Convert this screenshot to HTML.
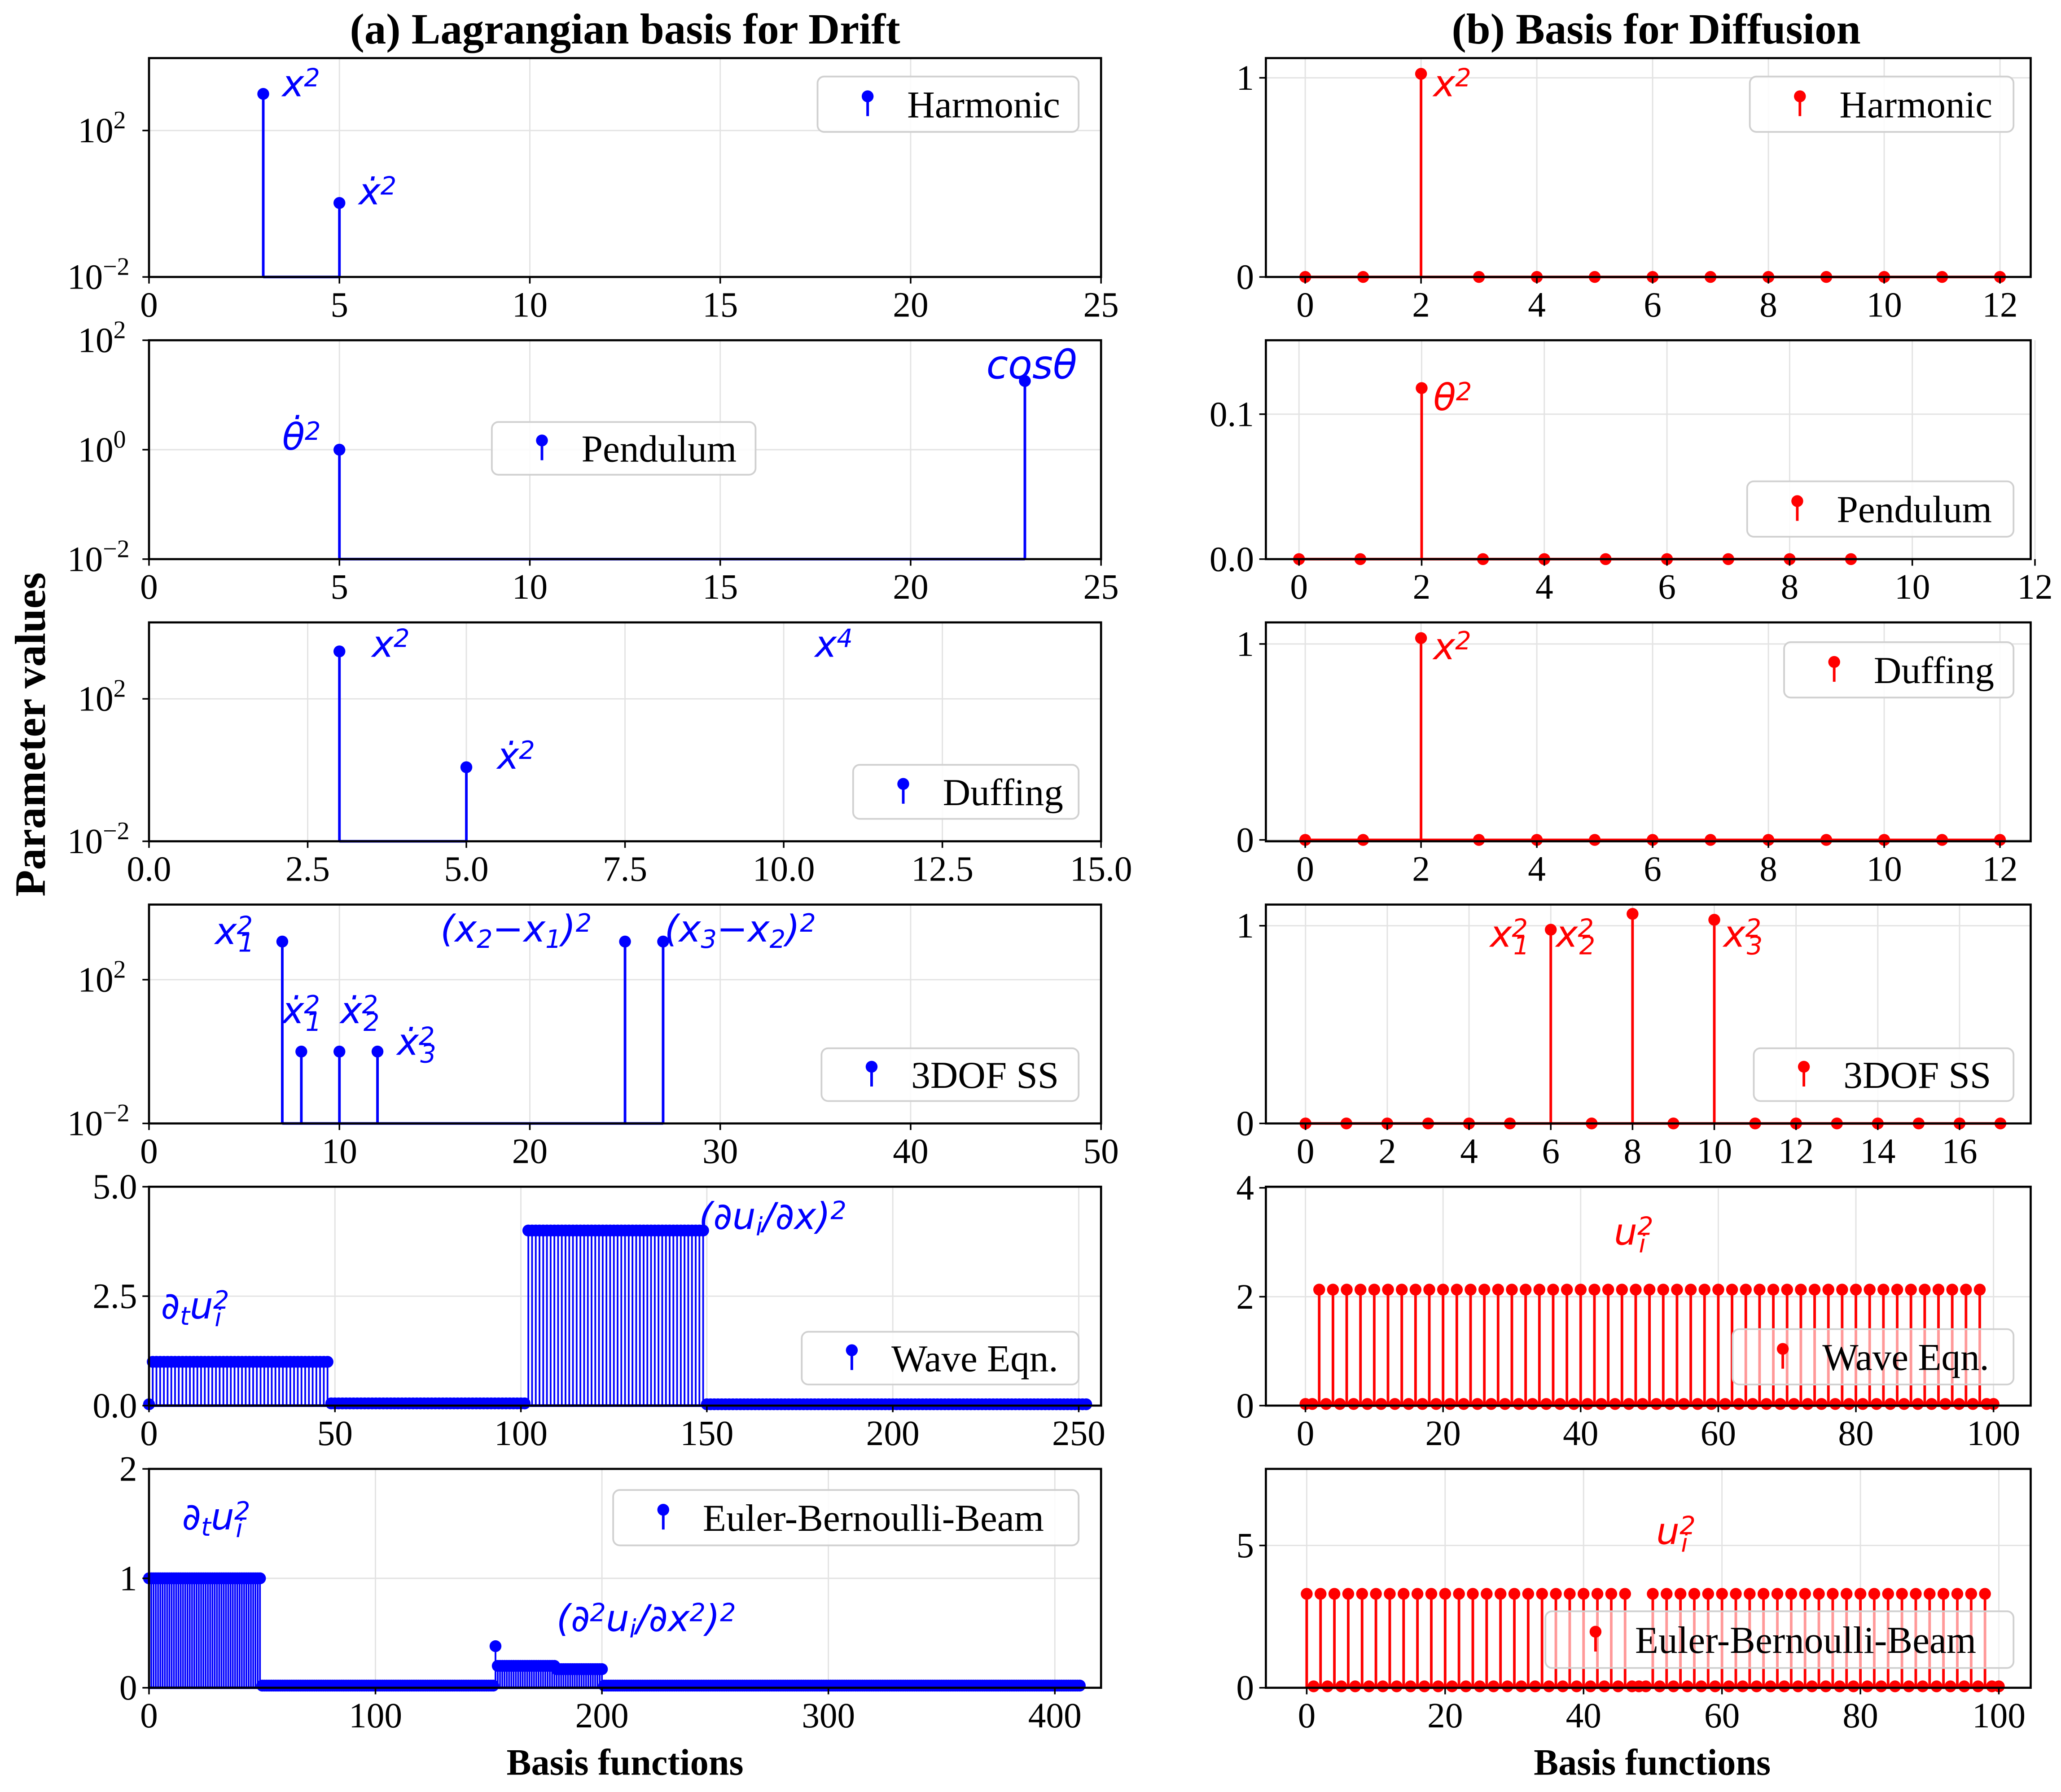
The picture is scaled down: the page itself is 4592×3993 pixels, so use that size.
<!DOCTYPE html>
<html><head><meta charset="utf-8"><style>
html,body{margin:0;padding:0;background:#fff}
svg{display:block}
text{font-family:"Liberation Serif","DejaVu Serif",serif}
.m{font-family:"DejaVu Sans","Liberation Sans",sans-serif;font-style:italic}
</style></head><body>
<svg id="fig" width="4592" height="3993" viewBox="0 0 1563 1359" xmlns="http://www.w3.org/2000/svg">
<rect width="1563" height="1359" fill="#fff"/>
<text x="474" y="33" font-size="33" font-weight="bold" text-anchor="middle">(a) Lagrangian basis for Drift</text>
<text x="1256" y="33" font-size="33" font-weight="bold" text-anchor="middle">(b) Basis for Diffusion</text>
<text transform="translate(34,557) rotate(-90)" font-size="33" font-weight="bold" text-anchor="middle">Parameter values</text>
<text x="474" y="1346" font-size="28" font-weight="bold" text-anchor="middle">Basis functions</text>
<text x="1253" y="1346" font-size="28" font-weight="bold" text-anchor="middle">Basis functions</text>
</svg>
<script>
// ---- data ----
const h1X=[3,5], h1Y=[1000,1.05];
const p1X=[5,23], p1Y=[1,18];
const d1X=[3,5], d1Y=[2150,1.2];
const s1X=[7,8,10,12,25,27], s1Y=[1150,1,1,1,1150,1150];
// wave eqn (run-length: start, end, value)
const w1Start=[0,1,49,102,150], w1End=[0,48,101,149,252], w1Val=[0.03,1.0,0.05,4.0,0.03];
// beam (run-length)
const b1Start=[0,50,153,154,180,201], b1End=[49,152,153,179,200,411], b1Val=[1.0,0.02,0.38,0.2,0.17,0.02];
const h2Y=[0,0,1.02,0,0,0,0,0,0,0,0,0,0];
const p2Y=[0,0,0.118,0,0,0,0,0,0,0];
const d2Y=[0,0,1.03,0,0,0,0,0,0,0,0,0,0];
const s2Y=[0,0,0,0,0,0,0.98,0,1.06,0,1.03,0,0,0,0,0,0,0];
const w2High=2.13, w2Low=0.03, w2N=101;
const b2High=3.3, b2Low=0.05, b2N=101, b2Missing=[48];

const svg=document.getElementById('fig');
const NS='http://www.w3.org/2000/svg';
function el(tag,attrs,parent){const e=document.createElementNS(NS,tag);for(const k in attrs)e.setAttribute(k,attrs[k]);(parent||svg).appendChild(e);return e;}
function runs(s,e,v){const xs=[],ys=[];for(let r=0;r<s.length;r++)for(let i=s[r];i<=e[r];i++){xs.push(i);ys.push(v[r]);}return [xs,ys];}

function panel(o){
  const g=el('g',{});
  
  
  const sx=v=>o.x0+(v-o.xmin)/(o.xmax-o.xmin)*(o.x1-o.x0);
  const tr=v=>o.log?Math.log10(Math.max(v,1e-9)):v;
  const sy=v=>o.y1-(tr(v)-tr(o.ymin))/(tr(o.ymax)-tr(o.ymin))*(o.y1-o.y0);
  o.xticks.forEach(t=>{el('line',{x1:sx(t),x2:sx(t),y1:o.y0,y2:o.y1,stroke:'#e3e3e3','stroke-width':1},g);});
  o.yticks.forEach(t=>{el('line',{x1:o.x0,x2:o.x1,y1:sy(t),y2:sy(t),stroke:'#e3e3e3','stroke-width':1},g);});
  const clip='c'+o.name;
  const cp=el('clipPath',{id:clip},g);el('rect',{x:o.x0-6,y:o.y0,width:o.x1-o.x0+12,height:o.y1-o.y0+6},cp);
  const sg=el('g',{'clip-path':'url(#'+clip+')'},g);
  const base=o.log?o.y1:sy(0);
  const ys=o.xs.map((x,i)=>sy(o.ys[i]));
  el('line',{x1:sx(o.xs[0]),x2:sx(o.xs[o.xs.length-1]),y1:base,y2:base,stroke:o.c,'stroke-width':2},sg);
  o.xs.forEach((x,i)=>{
    const l=el('line',{x1:sx(x),x2:sx(x),y1:base,y2:ys[i],stroke:o.c,'stroke-width':o.sw||2},sg);
    
    
    const c=el('circle',{cx:sx(x),cy:ys[i],r:4.5,fill:o.c},sg);
    
    
  });
  el('rect',{x:o.x0,y:o.y0,width:o.x1-o.x0,height:o.y1-o.y0,fill:'none',stroke:'#000','stroke-width':1.6},g);
  o.xticks.forEach((t,i)=>{el('line',{x1:sx(t),x2:sx(t),y1:o.y1,y2:o.y1+5,stroke:'#000','stroke-width':1.2},g);
    const tx=el('text',{x:sx(t),y:o.y1+30,'font-size':27,'text-anchor':'middle'},g);tx.textContent=o.xlab[i];
    });
  o.yticks.forEach((t,i)=>{el('line',{x1:o.x0-5,x2:o.x0,y1:sy(t),y2:sy(t),stroke:'#000','stroke-width':1.2},g);
    const tx=el('text',{x:o.x0-9,y:sy(t)+9,'font-size':27,'text-anchor':'end'},g);
    
    if(o.log){const e=Math.round(Math.log10(t));tx.setAttribute('text-anchor','start');tx.setAttribute('x',o.x0-(e<0?62:54));tx.textContent='10';
      const s=el('tspan',{'baseline-shift':'super','font-size':19},tx);s.textContent=(e<0?'\u2212':'')+Math.abs(e);}
    else tx.textContent=o.ylab[i];});
  const L=o.leg;
  const lr=el('rect',{x:L[0],y:L[1],width:L[2],height:L[3],rx:5,fill:'#fff','fill-opacity':L[5]||0.85,stroke:'#d0d0d0','stroke-width':1.3},g);
  
  const mx=L[0]+38,my=L[1]+L[3]/2;
  el('line',{x1:mx,x2:mx,y1:my-6,y2:my+9,stroke:o.c,'stroke-width':2},g);
  el('circle',{cx:mx,cy:my-6,r:4.5,fill:o.c},g);
  const lt=el('text',{x:mx+30,y:my+10,'font-size':29},g);lt.textContent=L[4];
  
  return g;
}
const lx0=113,lx1=835,rx0=960,rx1=1540,rows=[[44,210],[258,424],[472,638],[686,852],[900,1066],[1114,1280]];
const B='#0000ff',R='#ff0000';
panel({name:'harmonic-drift',x0:lx0,x1:lx1,y0:rows[0][0],y1:rows[0][1],xmin:0,xmax:25,log:1,ymin:0.01,ymax:9500,xs:h1X,ys:h1Y,c:B,
 xticks:[0,5,10,15,20,25],xlab:['0','5','10','15','20','25'],yticks:[0.01,100],leg:[620,58,198,42,'Harmonic']});
panel({name:'pendulum-drift',x0:lx0,x1:lx1,y0:rows[1][0],y1:rows[1][1],xmin:0,xmax:25,log:1,ymin:0.01,ymax:100,xs:p1X,ys:p1Y,c:B,
 xticks:[0,5,10,15,20,25],xlab:['0','5','10','15','20','25'],yticks:[0.01,1,100],leg:[373,320,200,40,'Pendulum']});
panel({name:'duffing-drift',x0:lx0,x1:lx1,y0:rows[2][0],y1:rows[2][1],xmin:0,xmax:15,log:1,ymin:0.01,ymax:14000,xs:d1X,ys:d1Y,c:B,
 xticks:[0,2.5,5,7.5,10,12.5,15],xlab:['0.0','2.5','5.0','7.5','10.0','12.5','15.0'],yticks:[0.01,100],leg:[647,580,171,41,'Duffing']});
panel({name:'3dof-drift',x0:lx0,x1:lx1,y0:rows[3][0],y1:rows[3][1],xmin:0,xmax:50,log:1,ymin:0.01,ymax:12300,xs:s1X,ys:s1Y,c:B,
 xticks:[0,10,20,30,40,50],xlab:['0','10','20','30','40','50'],yticks:[0.01,100],leg:[623,795,195,40,'3DOF SS']});
let wr=runs(w1Start,w1End,w1Val);
panel({name:'wave-drift',x0:lx0,x1:lx1,y0:rows[4][0],y1:rows[4][1],xmin:0,xmax:256,ymin:0,ymax:5,xs:wr[0],ys:wr[1],c:B,sw:1.3,
 xticks:[0,50,100,150,200,250],xlab:['0','50','100','150','200','250'],yticks:[0,2.5,5],ylab:['0.0','2.5','5.0'],leg:[608,1010,210,40,'Wave Eqn.']});
let br=runs(b1Start,b1End,b1Val);
panel({name:'beam-drift',x0:lx0,x1:lx1,y0:rows[5][0],y1:rows[5][1],xmin:0,xmax:420.4,ymin:0,ymax:2,xs:br[0],ys:br[1],c:B,sw:1.3,
 xticks:[0,100,200,300,400],xlab:['0','100','200','300','400'],yticks:[0,1,2],ylab:['0','1','2'],leg:[465,1130,353,42,'Euler-Bernoulli-Beam']});
const idx=n=>Array.from({length:n},(_,i)=>i);
panel({name:'harmonic-diffusion',x0:rx0,x1:rx1,y0:rows[0][0],y1:rows[0][1],xmin:-0.68,xmax:12.53,ymin:0,ymax:1.099,xs:idx(h2Y.length),ys:h2Y,c:R,
 xticks:[0,2,4,6,8,10,12],xlab:['0','2','4','6','8','10','12'],yticks:[0,1],ylab:['0','1'],leg:[1327,58,200,42,'Harmonic']});
panel({name:'pendulum-diffusion',x0:rx0,x1:rx1,y0:rows[1][0],y1:rows[1][1],xmin:-0.54,xmax:11.93,ymin:0,ymax:0.151,xs:idx(p2Y.length),ys:p2Y,c:R,
 xticks:[0,2,4,6,8,10,12],xlab:['0','2','4','6','8','10','12'],yticks:[0,0.1],ylab:['0.0','0.1'],leg:[1325,365,202,42,'Pendulum']});
panel({name:'duffing-diffusion',x0:rx0,x1:rx1,y0:rows[2][0],y1:rows[2][1],xmin:-0.68,xmax:12.53,ymin:-0.007,ymax:1.11,xs:idx(d2Y.length),ys:d2Y,c:R,
 xticks:[0,2,4,6,8,10,12],xlab:['0','2','4','6','8','10','12'],yticks:[0,1],ylab:['0','1'],leg:[1353,487,174,42,'Duffing']});
panel({name:'3dof-diffusion',x0:rx0,x1:rx1,y0:rows[3][0],y1:rows[3][1],xmin:-0.97,xmax:17.74,ymin:0,ymax:1.107,xs:idx(s2Y.length),ys:s2Y,c:R,
 xticks:[0,2,4,6,8,10,12,14,16],xlab:['0','2','4','6','8','10','12','14','16'],yticks:[0,1],ylab:['0','1'],leg:[1330,795,197,40,'3DOF SS']});
const w2Y=idx(w2N).map(i=>(i%2===0&&i>=2&&i<=98)?w2High:w2Low);
panel({name:'wave-diffusion',x0:rx0,x1:rx1,y0:rows[4][0],y1:rows[4][1],xmin:-5.75,xmax:105.4,ymin:0,ymax:4.02,xs:idx(w2N),ys:w2Y,c:R,
 xticks:[0,20,40,60,80,100],xlab:['0','20','40','60','80','100'],yticks:[0,2,4],ylab:['0','2','4'],leg:[1314,1008,213,42,'Wave Eqn.',0.6]});
const b2Y=idx(b2N).map(i=>(i%2===0&&i<=98&&b2Missing.indexOf(i)<0)?b2High:b2Low);
panel({name:'beam-diffusion',x0:rx0,x1:rx1,y0:rows[5][0],y1:rows[5][1],xmin:-5.9,xmax:104.6,ymin:0,ymax:7.69,xs:idx(b2N),ys:b2Y,c:R,
 xticks:[0,20,40,60,80,100],xlab:['0','20','40','60','80','100'],yticks:[0,5],ylab:['0','5'],leg:[1172,1222,355,43,'Euler-Bernoulli-Beam',0.6]});

function ann(x,y,html,c,fs){const g=document.createElementNS(NS,'text');g.setAttribute('x',x);g.setAttribute('y',y);g.setAttribute('font-size',fs||28);g.setAttribute('fill',c);g.setAttribute('class','m');g.innerHTML=html;
 
 
 svg.appendChild(g);}
const sup=s=>'<tspan baseline-shift="40%" font-size="19">'+s+'</tspan>';
const sub=s=>'<tspan baseline-shift="-25%" font-size="19">'+s+'</tspan>';
const both=(p,b)=>'<tspan baseline-shift="40%" font-size="19">'+p+'</tspan><tspan dx="-11" baseline-shift="-30%" font-size="19">'+b+'</tspan>';
ann(214,73,'x'+sup('2'),B);
ann(272,155,'ẋ'+sup('2'),B);
ann(214,341,'θ̇'+sup('2'),B);
ann(748,287,'cosθ',B,30);
ann(282,498,'x'+sup('2'),B);
ann(618,498,'x'+sup('4'),B);
ann(377,583,'ẋ'+sup('2'),B);
ann(163,716,'x'+both('2','1'),B);
ann(214,776,'ẋ'+both('2','1'),B);
ann(258,776,'ẋ'+both('2','2'),B);
ann(301,800,'ẋ'+both('2','3'),B);
ann(334,714,'(x'+sub('2')+'−x'+sub('1')+')'+sup('2'),B);
ann(504,714,'(x'+sub('3')+'−x'+sub('2')+')'+sup('2'),B);
ann(530,932,'(∂u'+sub('i')+'/∂x)'+sup('2'),B);
ann(122,1000,'∂'+sub('t')+'u'+both('2','i'),B);
ann(138,1160,'∂'+sub('t')+'u'+both('2','i'),B);
ann(422,1237,'(∂'+sup('2')+'u'+sub('i')+'/∂x'+sup('2')+')'+sup('2'),B);
ann(1087,73,'x'+sup('2'),R);
ann(1087,311,'θ'+sup('2'),R);
ann(1087,500,'x'+sup('2'),R);
ann(1130,718,'x'+both('2','1'),R);
ann(1180,718,'x'+both('2','2'),R);
ann(1307,718,'x'+both('2','3'),R);
ann(1224,944,'u'+both('2','i'),R);
ann(1256,1171,'u'+both('2','i'),R);
</script>
</body></html>
